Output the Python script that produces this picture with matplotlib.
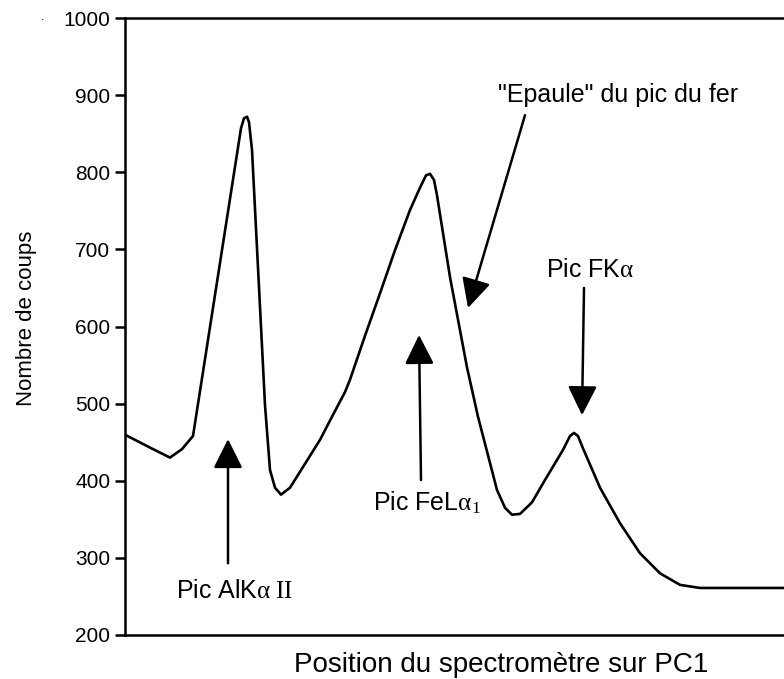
import matplotlib
matplotlib.use("Agg")
import matplotlib.pyplot as plt

plt.rcParams['font.family'] = ['Liberation Sans', 'DejaVu Sans']
plt.rcParams['mathtext.fontset'] = 'custom'
plt.rcParams['mathtext.rm'] = 'Liberation Serif'
plt.rcParams['mathtext.it'] = 'Liberation Serif:italic'

# position du spectrometre (unites arbitraires) et nombre de coups
position = [1, 25, 45, 57, 68, 116, 119, 122, 124, 127, 140, 145, 150, 156, 165, 195,
            207, 220, 225, 240, 255, 270, 285, 295, 301, 305, 309, 312, 325, 342, 353,
            365, 372, 380, 387, 395, 407, 420, 438, 445, 449, 453, 458, 475, 495, 515,
            535, 555, 575, 659]
coups = [459, 443, 430, 441, 458, 857, 870, 872, 865, 829, 498, 414, 391, 382, 391, 453,
         483, 515, 531, 588, 643, 699, 751, 780, 796, 798, 790, 770, 664, 547, 483,
         423, 388, 365, 356, 357, 372, 401, 440, 458, 462, 458, 442, 391, 345, 306,
         280, 265, 261, 261]

yticks = [200, 300, 400, 500, 600, 700, 800, 900, 1000]

fig = plt.figure(figsize=(7.84, 6.79), dpi=100)
ax = fig.add_axes([125 / 784, 1 - 635 / 679, 1 - 125 / 784, (635 - 18) / 679])

ax.plot(position, coups, color='black', lw=1.9, solid_joinstyle='round')

ax.set_xlim(0, 659)
ax.set_ylim(200, 1000)
ax.set_yticks(yticks)
ax.set_xticks([])
ax.tick_params(axis='y', direction='out', length=7.5, width=1.8, labelsize=15, pad=3)
for s in ['left', 'top', 'bottom']:
    ax.spines[s].set_linewidth(1.8)
ax.spines['right'].set_visible(False)

fig.text(27 / 784, 1 - 318 / 679, 'Nombre de coups', rotation=90,
         ha='center', va='center', fontsize=16)
fig.text(501 / 784, 1 - 665 / 679, 'Position du spectromètre sur PC1',
         ha='center', va='center', fontsize=20)
fig.text(43 / 784, 1 - 20 / 679, '.', ha='center', va='baseline', fontsize=9)

arrow = dict(arrowstyle='-|>,head_length=0.9,head_width=0.45', color='black',
             lw=1.8, mutation_scale=20, shrinkA=0, shrinkB=0)

# annotations : fleches et etiquettes
ax.annotate('', xy=(103, 454), xytext=(103, 293), arrowprops=arrow)
ax.text(109, 257, r'Pic AlK$\mathrm{\alpha\ II}$', ha='center', va='center', fontsize=18)

ax.annotate('', xy=(294, 589), xytext=(296, 401), arrowprops=arrow)
ax.text(302, 371, r'Pic FeL$\mathrm{\alpha_1}$', ha='center', va='center', fontsize=18)

ax.annotate('', xy=(343, 624), xytext=(400, 874), arrowprops=arrow)
ax.text(493, 900, '"Epaule" du pic du fer', ha='center', va='center', fontsize=18)

ax.annotate('', xy=(457, 485), xytext=(459, 650), arrowprops=arrow)
ax.text(465, 673, r'Pic FK$\mathrm{\alpha}$', ha='center', va='center', fontsize=18)

fig.savefig('out.png', dpi=100)
